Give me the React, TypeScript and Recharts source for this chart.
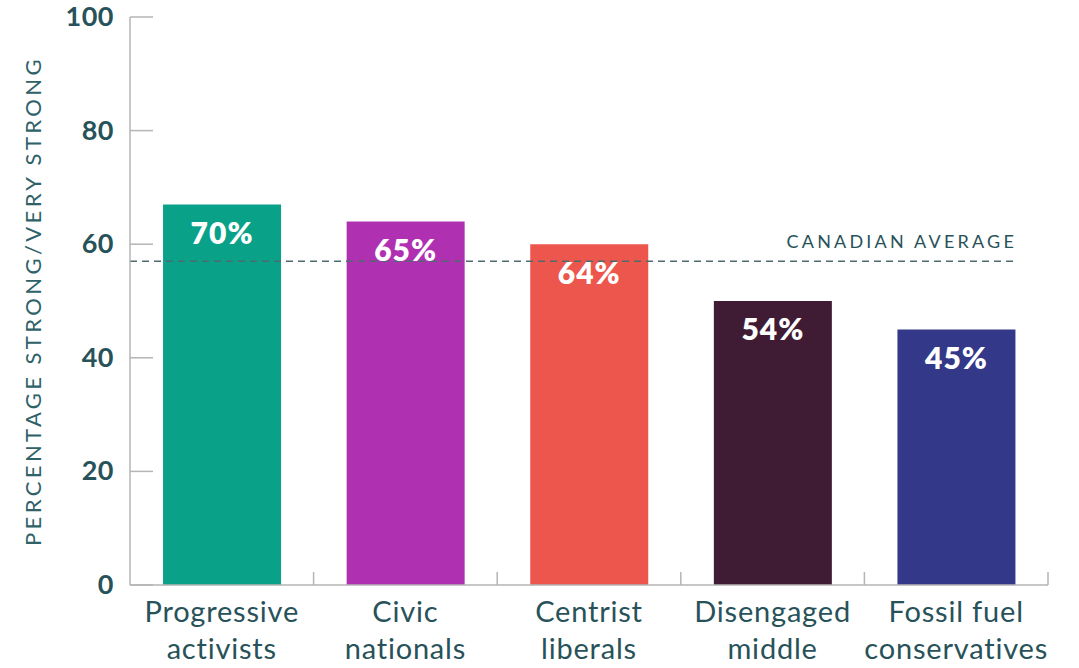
import { BarChart, Bar, XAxis, YAxis, Cell, LabelList, ReferenceLine } from 'recharts'

const categories = ['Progressive activists', 'Civic nationals', 'Centrist liberals', 'Disengaged middle', 'Fossil fuel conservatives']
const categoryLines = [
    ['Progressive', 'activists'],
    ['Civic', 'nationals'],
    ['Centrist', 'liberals'],
    ['Disengaged', 'middle'],
    ['Fossil fuel', 'conservatives'],
]
// bar heights as drawn in the picture
const barValues = [67, 64, 60, 50, 45]
// labels printed on the bars
const barLabels = ['70%', '65%', '64%', '54%', '45%']
const barColors = ['#0aa189', '#b030b2', '#ec564c', '#3f1b34', '#343888']
const yTicks = [0, 20, 40, 60, 80, 100]
const canadianAverage = 57

const TEXT = '#285259'
const FONT = 'Lato, "Open Sans", sans-serif'

const W = 1079
const H = 668
const PLOT_LEFT = 130
const PLOT_RIGHT = 1048
const BAND = (PLOT_RIGHT - PLOT_LEFT) / categories.length

const data = categories.map((name, i) => ({
    name,
    value: barValues[i],
    label: barLabels[i],
    idx: i,
}))

function YTick(props: any) {
    const { x, y, payload } = props
    return (
        <g>
            <line x1={PLOT_LEFT} x2={PLOT_LEFT + 23} y1={y} y2={y} stroke="#b5b5b5" strokeWidth={1.5} />
            <text x={x} y={y} dy={9} textAnchor="end" fill={TEXT} fontFamily={FONT} fontWeight={700} fontSize={27} letterSpacing={0.5}>
                {payload.value}
            </text>
        </g>
    )
}

function XTick(props: any) {
    const { x, payload, index } = props
    const lines = categoryLines[index] || [payload.value]
    const bx = x + BAND / 2
    return (
        <g>
            <line x1={bx} x2={bx} y1={585} y2={572} stroke="#b5b5b5" strokeWidth={1.5} />
            <text x={x} y={622} textAnchor="middle" fill={TEXT} fontFamily={FONT} fontSize={29} letterSpacing={0.8}>
                <tspan x={x}>{lines[0]}</tspan>
                <tspan x={x} dy={37}>{lines[1]}</tspan>
            </text>
        </g>
    )
}

function AvgLine(props: any) {
    const { x1, y1, y2 } = props
    return (
        <g>
            <line x1={x1} x2={1017} y1={y1} y2={y2} stroke="#4d6a6e" strokeWidth={1.5} strokeDasharray="7 5" />
            <text x={1017} y={y1 - 13} textAnchor="end" fill={TEXT} fontFamily={FONT} fontSize={18} letterSpacing={3.2}>
                CANADIAN AVERAGE
            </text>
        </g>
    )
}

export default function App() {
    return (
        <div style={{ position: 'absolute', left: 0, top: 0, width: W, height: H, background: '#fff' }}>
            <BarChart
                width={W}
                height={H}
                data={data}
                margin={{ top: 17, right: W - PLOT_RIGHT, left: 0, bottom: 0 }}
                barCategoryGap="18%"
            >
                <XAxis
                    dataKey="name"
                    height={83}
                    axisLine={{ stroke: '#b5b5b5', strokeWidth: 1.5 }}
                    tickLine={false}
                    tick={<XTick />}
                    interval={0}
                />
                <YAxis
                    width={PLOT_LEFT}
                    domain={[0, 100]}
                    ticks={yTicks}
                    axisLine={{ stroke: '#b5b5b5', strokeWidth: 1.5 }}
                    tickLine={false}
                    tick={<YTick />}
                    tickMargin={10}
                    label={{
                        value: 'PERCENTAGE STRONG/VERY STRONG',
                        angle: -90,
                        position: 'insideLeft',
                        offset: 0,
                        style: { fill: '#2e6168', fontFamily: FONT, fontSize: 22, letterSpacing: 3.4, textAnchor: 'middle' },
                        dx: 33,
                    }}
                />
                <ReferenceLine y={canadianAverage} shape={<AvgLine />} />
                <Bar dataKey="value" isAnimationActive={false}>
                    {data.map((d, i) => (
                        <Cell key={`cell-${i}`} fill={barColors[i]} />
                    ))}
                    <LabelList
                        dataKey="label"
                        position="insideTop"
                        offset={18}
                        fill="#ffffff"
                        style={{ fontFamily: FONT, fontWeight: 800, fontSize: 30, letterSpacing: 1 }}
                    />
                </Bar>
            </BarChart>
        </div>
    )
}
